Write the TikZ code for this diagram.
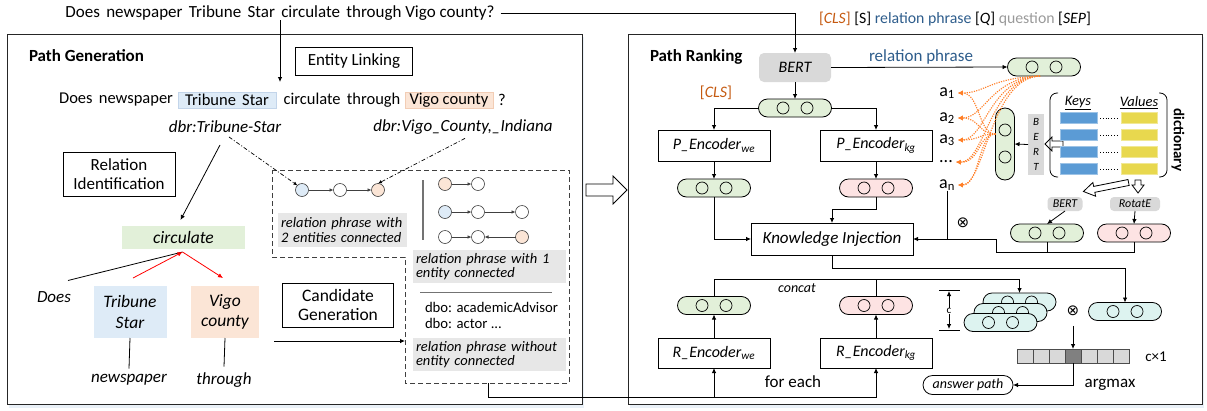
\documentclass[tikz,border=0pt]{standalone}
\usepackage{fontspec}
\setmainfont{Carlito}
\newfontfamily\dejavu{DejaVu Sans}
\usetikzlibrary{arrows.meta,calc,shapes.misc}
\definecolor{tsblue}{HTML}{DEEBF7}
\definecolor{tsedge}{HTML}{C3D5EA}
\definecolor{vcpeach}{HTML}{FBE5D6}
\definecolor{vcedge}{HTML}{F2CDB5}
\definecolor{lgreen}{HTML}{E2F0D9}
\definecolor{lpink}{HTML}{FDE3E3}
\definecolor{lcyan}{HTML}{DDF3F0}
\definecolor{lgray}{HTML}{E7E7E7}
\definecolor{bertgray}{HTML}{D9D9D9}
\definecolor{barblue}{HTML}{5B9BD5}
\definecolor{baryellow}{HTML}{E8D84E}
\definecolor{orng}{HTML}{FF7F27}
\definecolor{clsorange}{HTML}{C55A11}
\definecolor{rpblue}{HTML}{2E5D8C}
\definecolor{qgray}{HTML}{9A9A9A}
\definecolor{shadowblue}{HTML}{EAF1F8}
\definecolor{darkline}{HTML}{404040}
\newcommand{\fsz}[1]{\fontsize{#1}{#1}\selectfont}
\newcommand{\wsp}{\ \hspace{2.5pt}}
\newcommand{\mypill}[4]{%
  \node[pillsty, fill=#4] (#1) at (#2,#3) {};
  \node[cnode] (#1a) at ($(#1.center)+(-12,0)$) {};
  \node[cnode] (#1b) at ($(#1.center)+(12,0)$) {};}
\tikzset{
  every node/.style={inner sep=0pt, outer sep=0pt},
  panel/.style={draw=black!85, line width=1pt, fill=white},
  box/.style={draw, line width=0.8pt, align=center, font=\fsz{17}},
  pillsty/.style={rounded rectangle, draw, line width=0.8pt, minimum width=73pt, minimum height=18pt},
  cnode/.style={circle, draw, line width=0.7pt, minimum size=12pt},
  gcirc/.style={circle, draw=darkline, line width=0.6pt, minimum size=13pt},
  lab/.style={fill=lgray, font=\fsz{14.5}\itshape, align=left, inner xsep=3pt, minimum height=34pt},
  arr/.style={-{Latex[length=5pt,width=4.5pt]}, line width=0.8pt},
  sarr/.style={-{Latex[length=4pt,width=3.5pt]}, line width=0.7pt, draw=darkline},
  odot/.style={orng, line width=1.1pt, dash pattern=on 1.2pt off 1.2pt, -{Latex[length=5pt,width=5pt]}},
  hollow/.style={draw, line width=0.8pt, fill=white},
}
\begin{document}
\begin{tikzpicture}[x=1pt,y=-1pt]
\useasboundingbox (0,0) rectangle (1207,410);
% ---------- panels ----------
\fill[shadowblue] (9,37) rectangle (584,408);
\fill[shadowblue] (630,37) rectangle (1204,408);
\draw[panel] (7,34) rectangle (582,404);
\draw[panel] (628,34) rectangle (1202,404);

% ---------- left panel ----------
\node[font=\fsz{17}] (q) at (280,13) {Does\wsp newspaper\wsp Tribune\wsp Star\wsp circulate\wsp through Vigo county?};
\node[font=\fsz{17}\bfseries, anchor=west] (pg) at (29,56) {Path Generation};
\node[box, minimum width=117pt, minimum height=28pt] (el) at (354,61) {Entity Linking};

\node[font=\fsz{16.5}, anchor=east] (s2a) at (173,100) {Does\wsp newspaper};
\node[font=\fsz{16.5}, fill=tsblue, draw=tsedge, line width=0.5pt, minimum width=98pt, minimum height=16pt] (ts) at (227,100) {Tribune\wsp Star};
\node[font=\fsz{16.5}] (s2b) at (342,100) {circulate\wsp through};
\node[font=\fsz{16.5}, fill=vcpeach, draw=vcedge, line width=0.5pt, minimum width=88pt, minimum height=16pt] (vc) at (449,100) {Vigo county};
\node[font=\fsz{16.5}] (s2c) at (502,100) {?};
\draw[arr] (q.south) -- (q.south |- 0,82);

\node[font=\fsz{17}\itshape] (dbt) at (225,127) {dbr:Tribune-Star};
\node[font=\fsz{17}\itshape] (dbv) at (463,127) {dbr:Vigo\_County,\_Indiana};

\node[box, minimum width=112pt, minimum height=44pt] (ri) at (119,174) {Relation\\[2pt]Identification};
\node[fill=lgreen, minimum width=123pt, minimum height=23pt, font=\fsz{17.5}\itshape] (circ) at (183.5,237.5) {circulate};
\draw[arr] ($(dbt.south)+(-5,12)$) -- ($(circ.north)+(-3,-6)$);

\node[font=\fsz{17}\itshape] (does) at (54,297) {Does};
\node[fill=tsblue, minimum width=73pt, minimum height=52pt, align=center, font=\fsz{17.5}\itshape] (tsb) at (130,312) {Tribune\\[3pt]Star};
\node[fill=vcpeach, minimum width=68pt, minimum height=52pt, align=center, font=\fsz{17.5}\itshape] (vcb) at (225,312) {Vigo\\[3pt]county};
\node[font=\fsz{17}\itshape] (np) at (129,380) {newspaper};
\node[font=\fsz{17}\itshape] (thr) at (224,380) {through};
\draw[line width=0.8pt] (tsb.south) -- ($(np.north)+(0,-6)$);
\draw[line width=0.8pt] (vcb.south) -- ($(thr.north)+(0,-6)$);
\coordinate (cb) at ($(circ.south)+(-1,3)$);
\draw[line width=0.8pt] ($(does.north)+(14,-11)$) -- (cb);
\draw[red, -{Latex[length=5pt,width=4.5pt]}, line width=0.8pt] ($(tsb.north)+(3,-8)$) -- (cb);
\draw[red, -{Latex[length=5pt,width=4.5pt]}, line width=0.8pt] (cb) -- ($(vcb.north)+(-2,-8)$);

\node[box, minimum width=111pt, minimum height=44pt, font=\fsz{17.5}] (cg) at (338,305) {Candidate\\[2pt]Generation};

% dashed candidate region
\coordinate (d1) at (272,170); \coordinate (d2) at (569,170);
\coordinate (d3) at (569,383); \coordinate (d4) at (405,383);
\coordinate (d5) at (405,257); \coordinate (d6) at (272,257);
\draw[dashed, dash pattern=on 5pt off 3pt, line width=0.8pt, draw=black!75] (d1) -- (d2) -- (d3) -- (d4) -- (d5) -- (d6) -- cycle;
\coordinate (cgs) at (274,341);
\draw[arr] (cgs) -- (cgs -| d4);

\node[gcirc, fill=tsblue] (c1) at (302,190) {};
\node[gcirc, fill=white] (c2) at (340,190) {};
\node[gcirc, fill=vcpeach] (c3) at (378,190) {};
\draw[sarr] (c1) -- (c2);
\draw[sarr] (c2) -- (c3);
\draw[line width=0.7pt, dash pattern=on 4pt off 2pt on 1pt off 2pt, -{Latex[length=4pt,width=3.5pt]}] ($(dbt.south)+(4,4)$) -- (c1.north west);
\draw[line width=0.7pt, dash pattern=on 4pt off 2pt on 1pt off 2pt, -{Latex[length=4pt,width=3.5pt]}] ($(dbv.south)+(2,4)$) -- (c3.north);
\node[lab, text width=123pt] (L2) at (342.5,230) {relation phrase with\\2 entities connected};
\draw[black!55, line width=1.3pt] (423,180) -- (423,240);

\node[gcirc, fill=vcpeach] (r11) at (445,184) {};
\node[gcirc, fill=white] (r12) at (478,184) {};
\node[gcirc, fill=tsblue] (r21) at (445,212) {};
\node[gcirc, fill=white] (r22) at (478,212) {};
\node[gcirc, fill=white] (r23) at (522,212) {};
\node[gcirc, fill=white] (r31) at (445,237) {};
\node[gcirc, fill=white] (r32) at (478,237) {};
\node[gcirc, fill=vcpeach] (r33) at (522,237) {};
\draw[sarr] (r11) -- (r12);
\draw[sarr] (r21) -- (r22);
\draw[sarr] (r22) -- (r23);
\draw[sarr] (r31) -- (r32);
\draw[sarr] (r33) -- (r32);
\node[lab, text width=147pt, minimum height=33pt] (L1) at (489.5,266.5) {relation phrase with 1\\entity connected};
\draw[black!55, line width=1pt] (420,292) -- (552,292);
\node[font=\fsz{14.7}, anchor=west] (dbo1) at (425,307) {dbo: academicAdvisor};
\node[font=\fsz{14.7}, anchor=west] (dbo2) at (425,323) {dbo: actor ...};
\node[lab, text width=147pt, minimum height=33pt] (L0) at (489.5,354.5) {relation phrase without\\entity connected};

% hollow arrow between panels
\draw[hollow] (586,184) -- (613,184) -- (613,176) -- (627,190) -- (613,204) -- (613,196) -- (586,196) -- cycle;

% ---------- right panel ----------
\node[font=\fsz{15.8}, anchor=west] (cls) at (819,19) {\textcolor{clsorange}{[\textit{CLS}]} [S] \textcolor{rpblue}{relation phrase} [\textit{Q}] \textcolor{qgray}{question} [\textit{SEP}]};
\node[font=\fsz{17}\bfseries, anchor=west] (pr) at (650,57) {Path Ranking};
\node[fill=bertgray, rounded corners=5pt, minimum width=72pt, minimum height=29pt, font=\fsz{16}\itshape] (bert) at (795,67.5) {BERT};
\draw[arr] (q.east) ++(6,0) -- (bert.north |- q.east) -- (bert.north);
\node[font=\fsz{17}, text=rpblue] (rpl) at (921,57) {relation phrase};
\mypill{tp}{1044}{67}{lgreen}
\draw[arr] (bert.east) -- (tp.west);
\node[font=\fsz{16}, text=clsorange] (clsl) at (716,93) {[\textit{CLS}]};
\mypill{cp}{795}{108}{lgreen}
\draw[arr] (bert.south) -- (cp.north);

\node[box, minimum width=112pt, minimum height=31pt, font=\fsz{16}] (penwe) at (714,145.5) {\textit{P\_Encoder}\textsubscript{\textit{we}}};
\node[box, minimum width=112pt, minimum height=31pt, font=\fsz{16}] (penkg) at (876,145.5) {\textit{P\_Encoder}\textsubscript{\textit{kg}}};
\draw[arr] (cp.west) -| (penwe.north);
\draw[arr] (cp.east) -| (penkg.north);
\mypill{pwe}{714}{188}{lgreen}
\mypill{pkg}{876}{188}{lpink}
\draw[arr] (penwe.south) -- (pwe.north);
\draw[arr] (penkg.south) -- (pkg.north);

\node[box, minimum width=162pt, minimum height=32pt, font=\fsz{17}\itshape] (ki) at (832,239) {Knowledge Injection};
\draw[arr] (pwe.south) |- (ki.west);
\draw[arr] (pkg.south) -- ++(0,12) -| (ki.north);

% a labels
\node[font=\fsz{18}] (a1) at (947,93) {a\textsubscript{1}};
\node[font=\fsz{18}] (a2) at (947,118) {a\textsubscript{2}};
\node[font=\fsz{18}] (a3) at (947,140) {a\textsubscript{3}};
\node[font=\fsz{18}] (ad) at (946,162) {...};
\node[font=\fsz{18}] (an) at (947,185) {a\textsubscript{n}};

% vertical pill
\node[draw, line width=0.8pt, fill=lgreen, rounded corners=9.5pt, minimum width=19pt, minimum height=72pt] (vp) at (1005,144) {};
\node[cnode] (vpa) at (1005,130) {};
\node[cnode] (vpb) at (1005,157) {};
\node[fill=bertgray, minimum width=16pt, minimum height=61pt, align=center, font=\fsz{11}\itshape] (bv) at (1036,144.5) {B\\[4pt]E\\[4pt]R\\[4pt]T};
\draw[arr] (bv.west) -- (vp.east);
\draw[hollow] (1063,141) -- (1052,141) -- (1052,137) -- (1045,144) -- (1052,151) -- (1052,147) -- (1063,147) -- cycle;

% orange dotted links
\foreach \n/\yy in {a1/93,a2/118,a3/140,ad/163,an/185}{
  \draw[odot] ($(tp.south)+(-4,0)$) .. controls (990,78) and (985,\yy) .. ($(\n.east)+(3,0)$);
  \draw[odot] ($(vp.west)+(0,-10)$) .. controls (978,134) and (980,\yy) .. ($(\n.east)+(3,0)$);
}

% dictionary
\draw[line width=0.8pt, rounded corners=7pt] (1058,93) -- (1050,93) -- (1050,177) -- (1058,177);
\draw[line width=0.8pt, rounded corners=7pt] (1159,93) -- (1167,93) -- (1167,177) -- (1159,177);
\node[font=\fsz{14.5}\itshape] (keys) at (1078,103) {\underline{Keys}};
\node[font=\fsz{14.5}\itshape] (vals) at (1139,103) {\underline{Values}};
\foreach \yy in {118,135,152,169}{
  \node[fill=barblue, draw=barblue!60, line width=0.6pt, minimum width=37pt, minimum height=11pt] at (1078.5,\yy) {};
  \node[fill=baryellow, draw=baryellow!60, line width=0.6pt, minimum width=36pt, minimum height=11pt] at (1139,\yy) {};
  \draw[dotted, line width=0.8pt] (1100,\yy) -- (1119,\yy);
}
\node[font=\fsz{15}\bfseries, rotate=-90] (dict) at (1178,140) {dictionary};
\begin{scope}[shift={(1106,187)}, rotate=11.3]
  \draw[hollow] (23,-3) -- (-12,-3) -- (-12,-7) -- (-23,0) -- (-12,7) -- (-12,3) -- (23,3) -- cycle;
\end{scope}
\draw[hollow] (1135,180) -- (1141,180) -- (1141,185) -- (1144,185) -- (1138,193) -- (1132,185) -- (1135,185) -- cycle;
\node[fill=bertgray, rounded corners=4pt, minimum width=35pt, minimum height=14pt, font=\fsz{12}\itshape] (bs) at (1065,204) {BERT};
\node[fill=bertgray, rounded corners=4pt, minimum width=50pt, minimum height=14pt, font=\fsz{12}\itshape] (rot) at (1135,204) {RotatE};
\mypill{dg}{1047}{233}{lgreen}
\mypill{dp}{1134}{233}{lpink}
\draw[arr] (bs.south) -- (dg.north);
\draw[arr] (rot.south) -- (dp.north);
\coordinate (j1) at (996,252);
\draw[line width=0.8pt] (dg.south) -- (dg.south |- j1);
\draw[arr] (dp.south) |- (j1) |- (ki.east);
\draw[line width=0.8pt] (an.south) -- (an.south |- ki.east);
\node[font=\fsz{15}\dejavu] (ox1) at (963,223) {⊗};

% lower part
\mypill{qp}{1125}{311.5}{lcyan}
\draw[arr] (ki.south) -- ++(0,13) -| (qp.north);
\mypill{stk3}{1019.5}{302}{lcyan}
\mypill{stk2}{1010.5}{312.5}{lcyan}
\mypill{stk1}{1000.5}{322.5}{lcyan}
\node[font=\fsz{15}\dejavu] (ox2) at (1073,311) {⊗};

\mypill{rpwe}{714}{305.5}{lgreen}
\mypill{rpkg}{876}{305.5}{lpink}
\node[box, minimum width=112pt, minimum height=30pt, font=\fsz{16}] (renwe) at (714,353) {\textit{R\_Encoder}\textsubscript{\textit{we}}};
\node[box, minimum width=112pt, minimum height=30pt, font=\fsz{16}] (renkg) at (876,353) {\textit{R\_Encoder}\textsubscript{\textit{kg}}};
\draw[arr] (renwe.north) -- (rpwe.south);
\draw[arr] (renkg.north) -- (rpkg.south);
\draw[arr] (rpwe.north) -- (rpwe.north |- 0,279) -| (stk3.north);
\draw[line width=0.8pt] (rpkg.north) -- (rpkg.north |- 0,279);
\node[font=\fsz{14}\itshape] (concat) at (797,288) {concat};
\node[font=\fsz{17}] (fe) at (793,382) {for each};
\coordinate (dbout) at (488,383);
\draw[arr] (dbout) |- (renkg.south |- 0,397) -- (renkg.south);
\draw[arr] (renwe.south |- 0,397) -- (renwe.south);

% c dimension
\draw[line width=0.8pt] (939,290) -- (960,290);
\draw[line width=0.8pt] (939,330) -- (960,330);
\node[font=\fsz{11}] (cdim) at (949,311) {c};
\draw[arr] (cdim.north) -- (949,291);
\draw[arr] (cdim.south) -- (949,329);

% score bar
\foreach \i in {0,...,6}{
  \node[draw=black!70, line width=0.6pt, fill=bertgray, minimum width=16pt, minimum height=14pt] (bar\i) at (1025+16*\i,356) {};
}
\node[draw=black!70, line width=0.6pt, fill=black!50, minimum width=16pt, minimum height=14pt] (barmax) at (1073,356) {};
\draw[arr] (ox2.south) ++(0,10) -- (barmax.north);
\node[font=\fsz{15}] (cx1) at (1156,357) {c×1};
\node[draw, line width=0.8pt, rounded rectangle, minimum width=90pt, minimum height=19pt, font=\fsz{14}\itshape] (ap) at (968,385) {answer path};
\draw[arr] (barmax.south) |- (ap.east);
\node[font=\fsz{17}] (am) at (1110,385) {argmax};
\end{tikzpicture}
\end{document}
